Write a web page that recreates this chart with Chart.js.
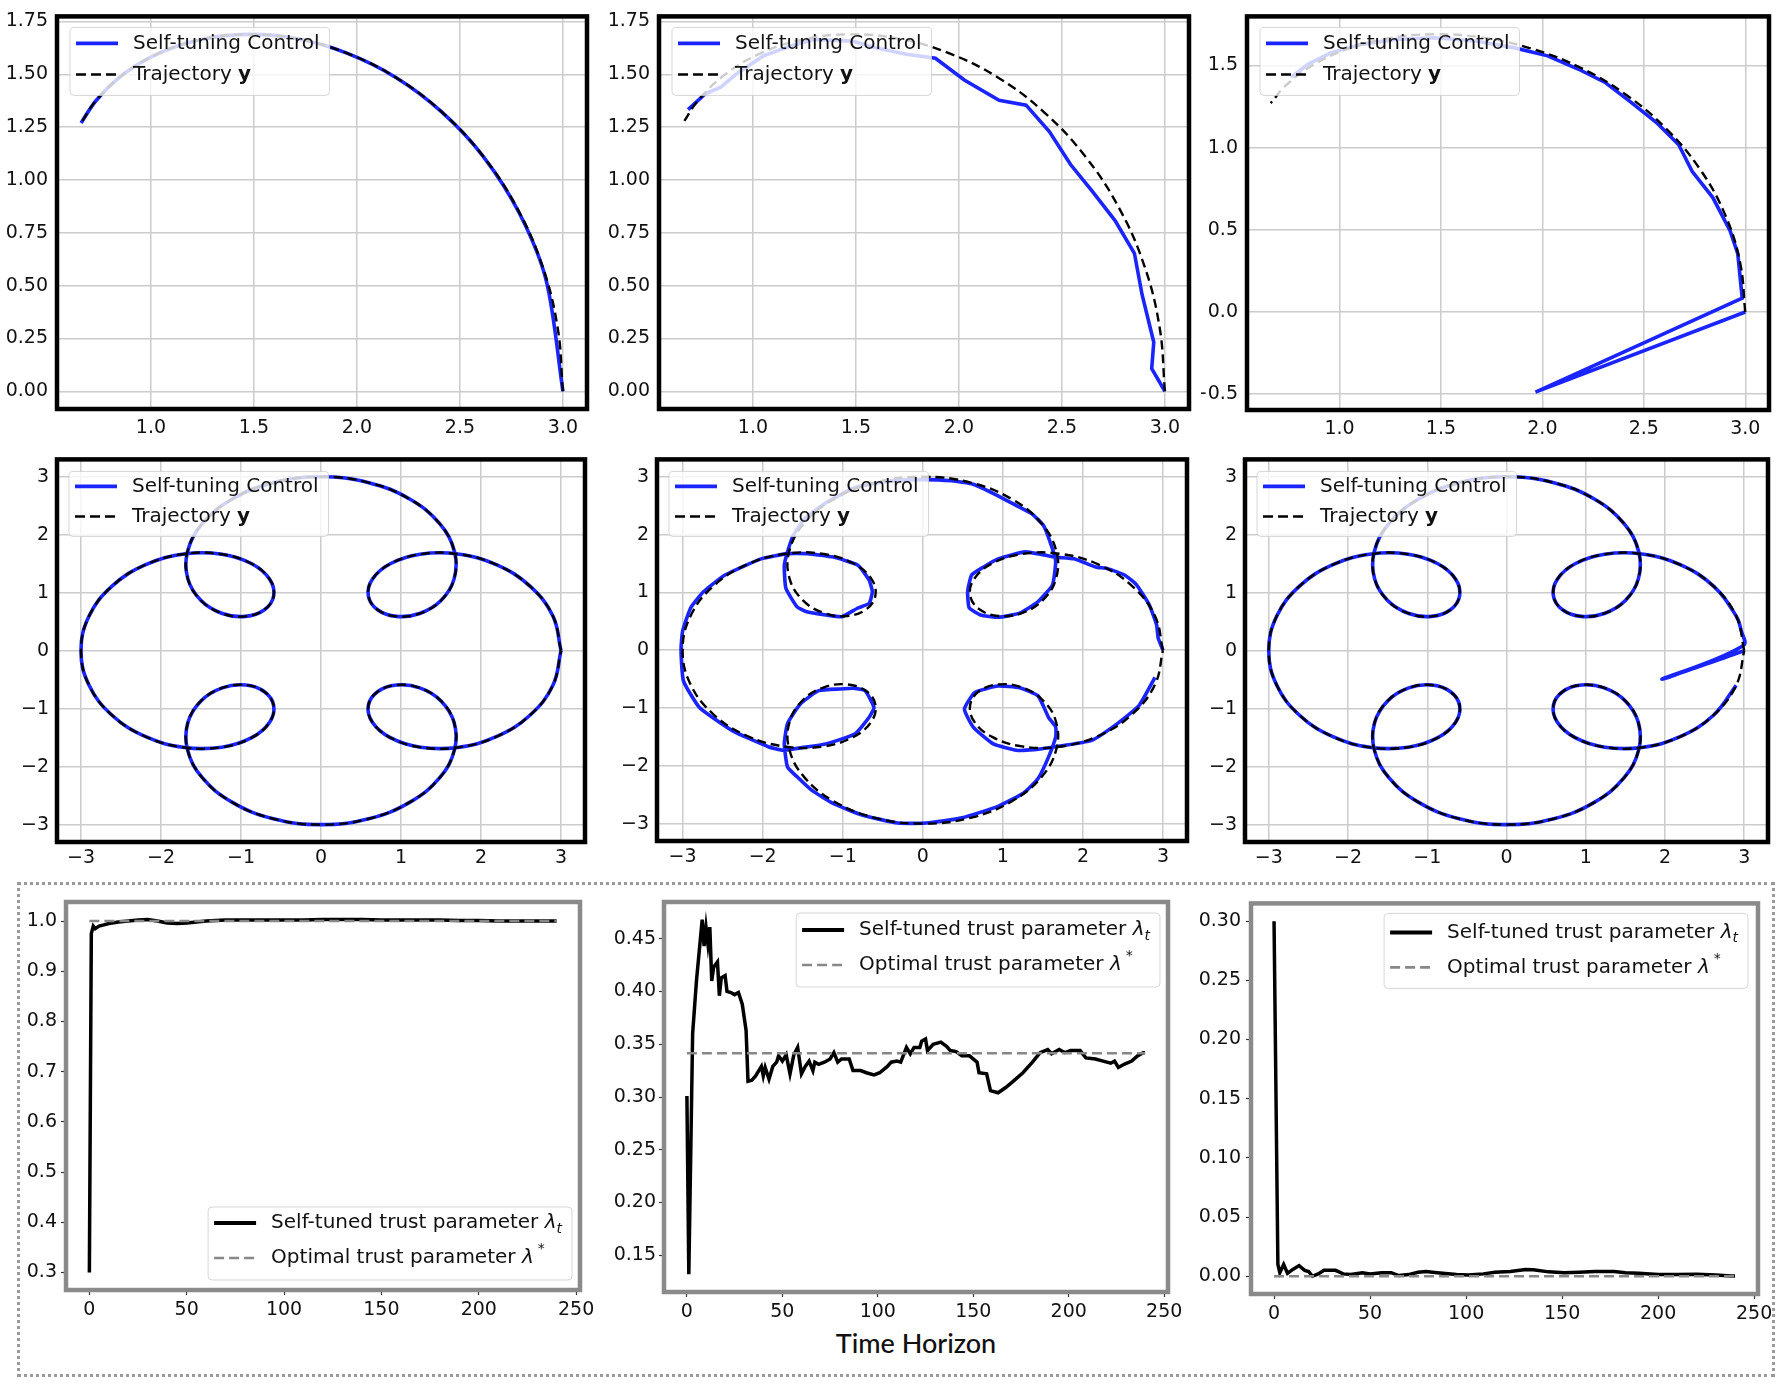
<!DOCTYPE html>
<html>
<head>
<meta charset="utf-8">
<script src="https://cdn.jsdelivr.net/npm/chart.js@4.4.1/dist/chart.umd.min.js"></script>
<style>
  html, body { margin: 0; padding: 0; background: #fff; }
  body { width: 1782px; height: 1384px; position: relative; overflow: hidden; }
  canvas { position: absolute; }
  #box { position: absolute; left: 17px; top: 882px; width: 1752px; height: 489px; border: 3px dotted #9a9a9a; }
  #xlabel { position: absolute; left: 716px; width: 400px; top: 1326px; text-align: center; font: 500 27px Lato, sans-serif; color: #111; }
</style>
</head>
<body>
<div id="box"></div>
<div id="xlabel">Time Horizon</div>
<script>
// ---- data ----

// reference trajectory y, full loop (rows 1-2)
const curve = [
  [3.000, 0.000], [2.899, 0.597], [2.612, 1.113], [2.191, 1.484], [1.706, 1.669], [1.239, 1.664], [0.866, 1.500], [0.642, 1.234], [0.592, 0.944], [0.707, 0.707],
  [0.944, 0.592], [1.234, 0.642], [1.500, 0.866], [1.664, 1.239], [1.669, 1.706], [1.484, 2.191], [1.113, 2.612], [0.597, 2.899], [0.000, 3.000],
  [-0.597, 2.899], [-1.113, 2.612], [-1.484, 2.191], [-1.669, 1.706], [-1.664, 1.239], [-1.500, 0.866], [-1.234, 0.642], [-0.944, 0.592], [-0.707, 0.707],
  [-0.592, 0.944], [-0.642, 1.234], [-0.866, 1.500], [-1.239, 1.664], [-1.706, 1.669], [-2.191, 1.484], [-2.612, 1.113], [-2.899, 0.597], [-3.000, 0.000],
  [-2.899, -0.597], [-2.612, -1.113], [-2.191, -1.484], [-1.706, -1.669], [-1.239, -1.664], [-0.866, -1.500], [-0.642, -1.234], [-0.592, -0.944], [-0.707, -0.707],
  [-0.944, -0.592], [-1.234, -0.642], [-1.500, -0.866], [-1.664, -1.239], [-1.669, -1.706], [-1.484, -2.191], [-1.113, -2.612], [-0.597, -2.899], [0.000, -3.000],
  [0.597, -2.899], [1.113, -2.612], [1.484, -2.191], [1.669, -1.706], [1.664, -1.239], [1.500, -0.866], [1.234, -0.642], [0.944, -0.592], [0.707, -0.707],
  [0.592, -0.944], [0.642, -1.234], [0.866, -1.500], [1.239, -1.664], [1.706, -1.669], [2.191, -1.484], [2.612, -1.113], [2.899, -0.597], [3.000, 0.000]
];

// first part of the trajectory (row 1)
const arc = [
  [3.000, 0.000], [2.974, 0.304], [2.899, 0.597], [2.776, 0.870], [2.612, 1.113], [2.414, 1.320], [2.191, 1.484], [1.951, 1.600],
  [1.706, 1.669], [1.465, 1.689], [1.239, 1.664], [1.037, 1.599], [0.866, 1.500], [0.733, 1.375], [0.661, 1.270]
];

// self-tuning control traces
const ctrl1 = [
  [3.000, 0.000], [2.920, 0.520], [2.790, 0.840], [2.612, 1.113], [2.414, 1.320], [2.191, 1.484], [1.951, 1.600],
  [1.706, 1.669], [1.465, 1.689], [1.239, 1.664], [1.037, 1.599], [0.866, 1.500], [0.733, 1.375], [0.661, 1.270]
];
const ctrl2 = [
  [3.000, 0.000], [2.936, 0.107], [2.946, 0.232], [2.889, 0.458], [2.852, 0.653], [2.758, 0.808], [2.645, 0.949], [2.542, 1.073],
  [2.439, 1.229], [2.326, 1.354], [2.195, 1.377], [2.026, 1.473], [1.886, 1.576], [1.745, 1.595], [1.595, 1.626], [1.482, 1.657],
  [1.295, 1.665], [1.182, 1.634], [1.051, 1.587], [0.929, 1.509], [0.844, 1.439], [0.769, 1.408], [0.685, 1.333]
];
const ctrl3 = [
  [3.000, 0.000], [1.966, -0.487], [2.985, 0.084], [2.963, 0.355], [2.925, 0.495], [2.840, 0.696], [2.738, 0.856], [2.672, 1.017],
  [2.567, 1.147], [2.436, 1.277], [2.307, 1.398], [2.176, 1.478], [2.026, 1.558], [1.858, 1.608], [1.670, 1.648], [1.464, 1.668],
  [1.277, 1.658], [1.109, 1.628], [0.959, 1.578], [0.846, 1.508], [0.762, 1.428]
];
const ctrl5 = [
  [3.00, 0.00], [2.94, 0.21], [2.92, 0.44], [2.83, 0.78], [2.67, 1.13], [2.52, 1.30], [2.31, 1.41], [2.16, 1.44], [1.89, 1.58], [1.66, 1.61],
  [1.28, 1.70], [0.94, 1.58], [0.76, 1.44], [0.61, 1.30], [0.56, 1.01], [0.58, 0.73], [0.72, 0.61], [0.94, 0.57], [1.21, 0.64], [1.44, 0.84],
  [1.62, 1.13], [1.66, 1.53], [1.62, 1.75], [1.51, 2.15], [1.37, 2.35], [1.17, 2.50], [0.94, 2.67], [0.63, 2.87], [0.36, 2.93], [0.00, 2.95],
  [-0.40, 2.93], [-0.85, 2.81], [-1.21, 2.55], [-1.48, 2.27], [-1.62, 1.98], [-1.69, 1.70], [-1.73, 1.47], [-1.71, 1.07], [-1.57, 0.75], [-1.46, 0.67],
  [-1.21, 0.61], [-1.01, 0.58], [-0.81, 0.73], [-0.67, 0.81], [-0.63, 1.01], [-0.67, 1.21], [-0.81, 1.47], [-1.12, 1.61], [-1.44, 1.67], [-1.69, 1.67],
  [-2.02, 1.58], [-2.47, 1.30], [-2.74, 1.01], [-2.90, 0.73], [-3.00, 0.33], [-3.02, 0.00], [-2.99, -0.53], [-2.79, -0.99], [-2.38, -1.39], [-1.93, -1.67],
  [-1.75, -1.73], [-1.44, -1.67], [-1.21, -1.62], [-0.85, -1.45], [-0.67, -1.16], [-0.61, -0.99], [-0.72, -0.70], [-0.85, -0.66], [-1.03, -0.67], [-1.30, -0.70],
  [-1.53, -0.93], [-1.69, -1.27], [-1.73, -1.62], [-1.69, -2.02], [-1.57, -2.19], [-1.39, -2.42], [-1.12, -2.65], [-0.76, -2.85], [-0.31, -2.99], [0.04, -2.99],
  [0.49, -2.90], [0.94, -2.70], [1.26, -2.47], [1.44, -2.22], [1.57, -1.85], [1.66, -1.50], [1.66, -1.33], [1.57, -1.16], [1.44, -0.79], [1.21, -0.65],
  [0.94, -0.62], [0.65, -0.73], [0.52, -1.02], [0.63, -1.33], [0.88, -1.62], [1.17, -1.73], [1.39, -1.72], [1.66, -1.67], [2.11, -1.56], [2.43, -1.27],
  [2.70, -0.96], [2.90, -0.47]
];
const ctrl6Start = [[3.000, 0.000], [1.960, -0.490], [2.985, 0.084], [2.960, 0.355]];
const ctrl6 = ctrl6Start.concat(curve.slice(1, 72));

// trust parameter traces (row 3)
const lam1T = [0, 1, 2, 3, 5, 8, 10, 15, 20, 25, 30, 35, 40, 45, 50, 55, 60, 70, 80, 90,
  100, 110, 120, 130, 140, 150, 160, 170, 180, 190, 200, 210, 220, 230, 240];
const lam1V = [0.30, 0.975, 0.99, 0.985, 0.99, 0.993, 0.995, 0.998, 1.0, 1.002, 1.003, 1.0, 0.996, 0.995, 0.996, 0.998, 1.0, 1.002, 1.002, 1.002,
  1.002, 1.002, 1.003, 1.003, 1.003, 1.002, 1.002, 1.002, 1.002, 1.001, 1.001, 1.0, 1.0, 1.0, 1.0];
const lam1Opt = 1.0;

const lam2T = [
  0, 1, 3, 5, 8, 9, 10, 11, 12, 13,
  14, 16, 17, 18, 20, 21, 23, 25, 27, 29,
  31, 32, 34, 36, 39, 40, 41, 43, 45, 47,
  48, 50, 52, 54, 56, 58, 60, 62, 64, 66,
  67, 69, 72, 75, 77, 79, 81, 85, 87, 91,
  94, 98, 101, 105, 107, 110, 112, 115, 117, 119,
  122, 123, 125, 126, 129, 133, 136, 138, 141, 144,
  148, 152, 153, 157, 159, 163, 167, 171, 176, 181,
  185, 189, 191, 195, 198, 201, 206, 209, 214, 218,
  222, 224, 226, 229, 233, 236, 239, 240];
const lam2V = [
  0.301, 0.132, 0.360, 0.410, 0.468, 0.443, 0.461, 0.445, 0.461, 0.410,
  0.423, 0.428, 0.396, 0.413, 0.415, 0.400, 0.399, 0.397, 0.399, 0.388,
  0.363, 0.315, 0.316, 0.320, 0.329, 0.320, 0.328, 0.317, 0.329, 0.333,
  0.339, 0.334, 0.340, 0.322, 0.340, 0.347, 0.322, 0.329, 0.334, 0.325,
  0.333, 0.331, 0.333, 0.336, 0.342, 0.333, 0.336, 0.336, 0.325, 0.325,
  0.323, 0.321, 0.323, 0.329, 0.333, 0.334, 0.333, 0.347, 0.341, 0.347,
  0.347, 0.353, 0.355, 0.344, 0.350, 0.352, 0.348, 0.344, 0.343, 0.339,
  0.339, 0.333, 0.323, 0.322, 0.306, 0.304, 0.309, 0.315, 0.323, 0.333,
  0.342, 0.345, 0.341, 0.345, 0.342, 0.344, 0.344, 0.337, 0.336, 0.334,
  0.332, 0.334, 0.328, 0.331, 0.334, 0.339, 0.342, 0.342];
const lam2Opt = 0.3415;

const lam3T = [0, 2, 3, 5, 7, 10, 13, 16, 18, 20, 23, 26, 32, 36, 40, 46, 50, 56, 61, 65,
  70, 75, 79, 85, 95, 101, 109, 115, 123, 131, 135, 143, 151, 159, 167, 177, 183, 190, 200, 210,
  220, 230, 238, 240];
const lam3V = [0.30, 0.010, 0.003, 0.010, 0.0025, 0.006, 0.009, 0.005, 0.004, 0.0, 0.002, 0.005, 0.005, 0.002, 0.0014, 0.003, 0.002, 0.003, 0.003, 0.0006,
  0.0014, 0.0034, 0.004, 0.003, 0.0014, 0.001, 0.002, 0.0034, 0.004, 0.0056, 0.0054, 0.0037, 0.003, 0.0034, 0.004, 0.004, 0.003, 0.0025, 0.0014, 0.0014,
  0.0017, 0.001, 0.0003, 0.0003];
const lam3Opt = 0.0;
const horizon = [0, 240];

// tick values and labels
const arcXTicks = [1.0, 1.5, 2.0, 2.5, 3.0];
const arcXLabels = ['1.0', '1.5', '2.0', '2.5', '3.0'];
const arcYTicks = [0, 0.25, 0.5, 0.75, 1.0, 1.25, 1.5, 1.75];
const arcYLabels = ['0.00', '0.25', '0.50', '0.75', '1.00', '1.25', '1.50', '1.75'];
const arc3YTicks = [-0.5, 0, 0.5, 1.0, 1.5];
const arc3YLabels = ['\u22120.5', '0.0', '0.5', '1.0', '1.5'];
const loopTicks = [-3, -2, -1, 0, 1, 2, 3];
const loopLabels = ['\u22123', '\u22122', '\u22121', '0', '1', '2', '3'];
const timeTicks = [0, 50, 100, 150, 200, 250];
const timeLabels = ['0', '50', '100', '150', '200', '250'];
const lam1Ticks = [0.3, 0.4, 0.5, 0.6, 0.7, 0.8, 0.9, 1.0];
const lam1Labels = ['0.3', '0.4', '0.5', '0.6', '0.7', '0.8', '0.9', '1.0'];
const lam2Ticks = [0.15, 0.20, 0.25, 0.30, 0.35, 0.40, 0.45];
const lam2Labels = ['0.15', '0.20', '0.25', '0.30', '0.35', '0.40', '0.45'];
const lam3Ticks = [0, 0.05, 0.10, 0.15, 0.20, 0.25, 0.30];
const lam3Labels = ['0.00', '0.05', '0.10', '0.15', '0.20', '0.25', '0.30'];

// ---- drawing ----
Chart.defaults.font.family = '"DejaVu Sans", sans-serif';
Chart.defaults.color = '#111';
Chart.defaults.animation = false;

const BLUE = '#1a24ff';
const AXIS_H = 46, PAD_T = 16, PAD_R = 24;

function pts(pairs) { return pairs.map(p => ({ x: p[0], y: p[1] })); }
function tv(ts, vs) { return ts.map((t, i) => ({ x: t, y: vs[i] })); }

function blueLine(pairs, tension) {
  return { data: pts(pairs), showLine: true, pointRadius: 0, borderColor: BLUE, borderWidth: 3.6, tension: tension, order: 1 };
}
function dashLine(pairs) {
  return { data: pts(pairs), showLine: true, pointRadius: 0, borderColor: '#000', borderWidth: 2.4, borderDash: [9, 5], tension: 0.4, order: 0 };
}
function lamLine(ts, vs) {
  return { data: tv(ts, vs), showLine: true, pointRadius: 0, borderColor: '#000', borderWidth: 3.5, tension: 0, order: 1 };
}
function optLine(v) {
  return { data: tv(horizon, [v, v]), showLine: true, pointRadius: 0, borderColor: '#888', borderWidth: 2.6, borderDash: [10, 5], order: 0 };
}

function axis(dir, min, max, ticks, labels, size, pad, gridded) {
  return {
    type: 'linear', min: min, max: max, bounds: 'data',
    afterBuildTicks: s => { s.ticks = ticks.map(v => ({ value: v })); },
    afterFit: s => { if (dir === 'x') s.height = size; else s.width = size; },
    ticks: { autoSkip: false, maxRotation: 0, padding: pad, color: '#111', font: { size: 19 }, callback: (v, i) => labels[i] },
    grid: gridded
      ? { color: '#cccccc', lineWidth: 1.5, drawTicks: false }
      : { drawOnChartArea: false, drawTicks: true, tickLength: 5, tickColor: '#333', tickWidth: 1.2 },
    border: { display: false }
  };
}

function drawParts(ctx, parts, x, y, size, draw) {
  const x0 = x;
  parts.forEach(p => {
    let fs = size, dy = 0;
    if (p.sub) { fs = size * 0.7; dy = size * 0.3; }
    if (p.sup) { fs = size * 0.7; dy = -size * 0.42; }
    ctx.font = (p.italic ? 'italic ' : '') + (p.bold ? 'bold ' : '') + fs + 'px "DejaVu Sans"';
    x += p.dx || 0;
    if (draw) ctx.fillText(p.text, x, y + dy);
    x += ctx.measureText(p.text).width;
  });
  return x - x0;
}

function legendPlugin(spec) {
  return {
    id: 'boxLegend',
    afterDatasetsDraw(chart) {
      const ctx = chart.ctx, a = chart.chartArea;
      ctx.save();
      ctx.textBaseline = 'middle';
      ctx.textAlign = 'left';
      let tw = 0;
      spec.items.forEach(it => { tw = Math.max(tw, drawParts(ctx, it.parts, 0, 0, spec.size, false)); });
      const w = tw + 73, h = spec.height;
      const x = spec.corner[1] === 'l' ? a.left + spec.inset[0] : a.right - spec.inset[0] - w;
      const y = spec.corner[0] === 't' ? a.top + spec.inset[1] : a.bottom - spec.inset[1] - h;
      ctx.beginPath();
      ctx.roundRect(x, y, w, h, 4);
      ctx.fillStyle = 'rgba(255,255,255,0.8)';
      ctx.fill();
      ctx.strokeStyle = 'rgba(204,204,204,0.8)';
      ctx.lineWidth = 1;
      ctx.stroke();
      spec.items.forEach((it, i) => {
        const ry = y + spec.rows[i];
        ctx.beginPath();
        ctx.setLineDash(it.dash || []);
        ctx.strokeStyle = it.color;
        ctx.lineWidth = it.width;
        ctx.moveTo(x + 6, ry);
        ctx.lineTo(x + 48, ry);
        ctx.stroke();
        ctx.setLineDash([]);
        ctx.fillStyle = '#111';
        drawParts(ctx, it.parts, x + 63, ry, spec.size, true);
      });
      ctx.restore();
    }
  };
}

function framePlugin(color) {
  return {
    id: 'frame',
    afterDraw(chart) {
      const ctx = chart.ctx, a = chart.chartArea;
      ctx.save();
      ctx.strokeStyle = color;
      ctx.lineWidth = 4.5;
      ctx.strokeRect(a.left, a.top, a.right - a.left, a.bottom - a.top);
      ctx.restore();
    }
  };
}

const trajItems = [
  { color: BLUE, width: 3.6, parts: [{ text: 'Self-tuning Control' }] },
  { color: '#000', width: 2.5, dash: [10, 5], parts: [{ text: 'Trajectory ' }, { text: 'y', bold: true }] }
];
const lamItems = [
  { color: '#000', width: 4, parts: [{ text: 'Self-tuned trust parameter ' }, { text: '\u03bb', italic: true }, { text: 't', italic: true, sub: true }] },
  { color: '#888', width: 2.6, dash: [10, 5], parts: [{ text: 'Optimal trust parameter ' }, { text: '\u03bb', italic: true }, { text: '*', sup: true, dx: 4 }] }
];
const legRow1 = { corner: 'tl', inset: [13, 11], rows: [16, 47], height: 68, size: 20, items: trajItems };
const legRow2 = { corner: 'tl', inset: [12, 12], rows: [15, 45], height: 65, size: 20, items: trajItems };

function makePanel(p) {
  const f = p.frame;
  const c = document.createElement('canvas');
  c.width = f.r - f.l + p.yw + PAD_R;
  c.height = f.b - f.t + PAD_T + AXIS_H;
  c.style.left = (f.l - p.yw) + 'px';
  c.style.top = (f.t - PAD_T) + 'px';
  document.body.appendChild(c);
  return new Chart(c, {
    type: 'scatter',
    data: { datasets: p.datasets },
    options: {
      responsive: false,
      animation: false,
      layout: { padding: { top: PAD_T, right: PAD_R, left: 0, bottom: 0 } },
      plugins: { legend: { display: false }, tooltip: { enabled: false } },
      scales: { x: p.x, y: p.y }
    },
    plugins: [legendPlugin(p.legend), framePlugin(p.frameColor)]
  });
}

// row 1
makePanel({
  frame: { l: 57, t: 12, r: 587, b: 409 }, yw: 57, frameColor: '#000', legend: legRow1,
  x: axis('x', 0.544, 3.117, arcXTicks, arcXLabels, AXIS_H, 8, true),
  y: axis('y', -0.084, 1.774, arcYTicks, arcYLabels, 57, 9, true),
  datasets: [dashLine(arc), blueLine(ctrl1, 0.3)]
});
makePanel({
  frame: { l: 659, t: 12, r: 1189, b: 409 }, yw: 56, frameColor: '#000', legend: legRow1,
  x: axis('x', 0.544, 3.117, arcXTicks, arcXLabels, AXIS_H, 8, true),
  y: axis('y', -0.084, 1.774, arcYTicks, arcYLabels, 56, 9, true),
  datasets: [dashLine(arc), blueLine(ctrl2, 0)]
});
makePanel({
  frame: { l: 1247, t: 12, r: 1769, b: 410 }, yw: 46, frameColor: '#000', legend: legRow1,
  x: axis('x', 0.544, 3.117, arcXTicks, arcXLabels, AXIS_H, 8, true),
  y: axis('y', -0.596, 1.798, arc3YTicks, arc3YLabels, 46, 9, true),
  datasets: [dashLine(arc), blueLine(ctrl3, 0)]
});

// row 2
makePanel({
  frame: { l: 57, t: 456, r: 585, b: 842 }, yw: 57, frameColor: '#000', legend: legRow2,
  x: axis('x', -3.3, 3.3, loopTicks, loopLabels, AXIS_H, 5, true),
  y: axis('y', -3.3, 3.3, loopTicks, loopLabels, 57, 8, true),
  datasets: [dashLine(curve), blueLine(curve, 0.4)]
});
makePanel({
  frame: { l: 657, t: 456, r: 1187, b: 841 }, yw: 56, frameColor: '#000', legend: legRow2,
  x: axis('x', -3.32, 3.3, loopTicks, loopLabels, AXIS_H, 5, true),
  y: axis('y', -3.3, 3.3, loopTicks, loopLabels, 56, 8, true),
  datasets: [dashLine(curve), blueLine(ctrl5, 0.15)]
});
makePanel({
  frame: { l: 1245, t: 456, r: 1768, b: 842 }, yw: 56, frameColor: '#000', legend: legRow2,
  x: axis('x', -3.3, 3.3, loopTicks, loopLabels, AXIS_H, 5, true),
  y: axis('y', -3.3, 3.3, loopTicks, loopLabels, 56, 8, true),
  datasets: [dashLine(curve), blueLine(ctrl6, 0.4)]
});

// row 3
makePanel({
  frame: { l: 66, t: 902, r: 580, b: 1290 }, yw: 48, frameColor: '#8a8a8a',
  legend: { corner: 'br', inset: [8, 10], rows: [16, 51], height: 73, size: 20, items: lamItems },
  x: axis('x', -12, 252, timeTicks, timeLabels, AXIS_H, 4, false),
  y: axis('y', 0.265, 1.038, lam1Ticks, lam1Labels, 48, 4, false),
  datasets: [optLine(lam1Opt), lamLine(lam1T, lam1V)]
});
makePanel({
  frame: { l: 664, t: 902, r: 1168, b: 1292 }, yw: 56, frameColor: '#8a8a8a',
  legend: { corner: 'tr', inset: [8, 11], rows: [17, 52], height: 74, size: 20, items: lamItems },
  x: axis('x', -12, 252, timeTicks, timeLabels, AXIS_H, 4, false),
  y: axis('y', 0.1152, 0.4848, lam2Ticks, lam2Labels, 56, 3, false),
  datasets: [optLine(lam2Opt), lamLine(lam2T, lam2V)]
});
makePanel({
  frame: { l: 1251, t: 903, r: 1758, b: 1294 }, yw: 56, frameColor: '#8a8a8a',
  legend: { corner: 'tr', inset: [10, 10], rows: [19, 54], height: 75, size: 20, items: lamItems },
  x: axis('x', -12, 252, timeTicks, timeLabels, AXIS_H, 4, false),
  y: axis('y', -0.015, 0.315, lam3Ticks, lam3Labels, 56, 5, false),
  datasets: [optLine(lam3Opt), lamLine(lam3T, lam3V)]
});
</script>
</body>
</html>
